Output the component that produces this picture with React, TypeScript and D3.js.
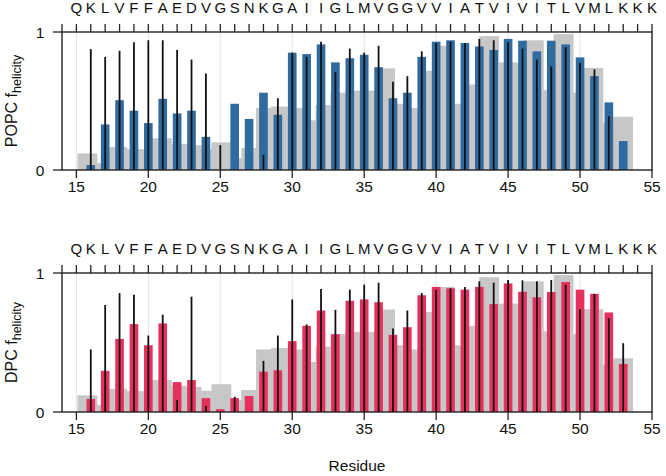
import React from 'react';
import * as d3 from 'd3';

// ---------- DATA ----------
const sequence = 'QKLVFFAEDVGSNKGAIIGLMVGGVVIATVIVITLVMLKKK';
const sequenceStart = 15;
const xTickValues = [15, 20, 25, 30, 35, 40, 45, 50, 55];
const yTickValues = [0, 1];

const residues = [16, 17, 18, 19, 20, 21, 22, 23, 24, 25, 26, 27, 28, 29, 30, 31, 32, 33, 34, 35,
  36, 37, 38, 39, 40, 41, 42, 43, 44, 45, 46, 47, 48, 49, 50, 51, 52, 53];

const popcHelicity = [0.036, 0.33, 0.506, 0.43, 0.34, 0.516, 0.41, 0.43, 0.24, 0, 0.48, 0.37, 0.56, 0.40,
  0.85, 0.84, 0.91, 0.78, 0.81, 0.835, 0.745, 0.52, 0.56, 0.82, 0.93, 0.94, 0.92, 0.895, 0.87, 0.95,
  0.937, 0.86, 0.937, 0.91, 0.816, 0.68, 0.49, 0.21];
const popcLine = [0.876, 0.82, 0.864, 0.925, 0.94, 0.94, 0.87, 0.80, 0.70, 0.18, 0, 0, 0.11, 0.52,
  0.85, 0.82, 0.93, 0.71, 0.88, 0.85, 0.90, 0.64, 0.68, 0.86, 0.92, 0.93, 0.92, 0.95, 0.94, 0.925,
  0.88, 0.80, 0.75, 0.89, 0.775, 0.73, 0.39, 0];

const dpcHelicity = [0.094, 0.296, 0.526, 0.632, 0.48, 0.637, 0.215, 0.23, 0.10, 0.02, 0.10, 0.115, 0.29,
  0.30, 0.51, 0.62, 0.73, 0.56, 0.80, 0.81, 0.79, 0.555, 0.61, 0.84, 0.90, 0.89, 0.88, 0.90, 0.776,
  0.925, 0.865, 0.825, 0.863, 0.935, 0.88, 0.85, 0.716, 0.346];
const dpcLine = [0.45, 0.77, 0.856, 0.844, 0.55, 0.70, 0.087, 0.83, 0.043, 0, 0.11, 0, 0.368, 0.55,
  0.81, 0.63, 0.885, 0.735, 0.88, 0.916, 0.93, 0.60, 0.73, 0.856, 0.88, 0.89, 0.90, 0.94, 0.93, 0.95,
  0.947, 0.94, 0.95, 0.916, 0.74, 0.85, 0.675, 0.495];

// reference (gray) series, spread between these residue positions
const referenceSpan = [15.77, 52.99];
const referenceHelicity = [0.12, 0.05, 0.167, 0.15, 0.15, 0.23, 0.19, 0.18, 0.153, 0.2, 0.086, 0.158,
  0.45, 0.46, 0.45, 0.36, 0.47, 0.56, 0.575, 0.575, 0.737, 0.48, 0.45, 0.72, 0.9, 0.48, 0.62, 0.97,
  0.78, 0.78, 0.94, 0.58, 0.985, 0.56, 0.74, 0.34, 0.386];

// ---------- LAYOUT ----------
const W = 666;
const H = 476;
const left = 62;
const right = 652;
const FONT = '"Liberation Sans", Arial, Helvetica, sans-serif';

const x = d3.scaleLinear().domain([14, 55]).range([left, right]);
const refPos = d3.scaleLinear().domain([0, referenceHelicity.length - 1]).range(referenceSpan);
const barHalf = 0.3;
const refHalf = 0.69;

type PanelProps = {
  top: number;
  bottom: number;
  values: number[];
  lines: number[];
  color: string;
  label: string;
};

function Panel({ top, bottom, values, lines, color, label }: PanelProps) {
  const y = d3.scaleLinear().domain([0, 1]).range([bottom, top]);
  const topTicks = d3.range(14, 56);
  return (
    <g>
      {xTickValues.map((t) => (
        <line key={'g' + t} x1={x(t)} x2={x(t)} y1={top} y2={bottom} stroke="#e3e3e3" strokeWidth={1} />
      ))}
      {referenceHelicity.map((v, j) => {
        const c = refPos(j);
        return (
          <rect key={'r' + j} x={x(c - refHalf)} width={x(c + refHalf) - x(c - refHalf)}
            y={y(v)} height={y(0) - y(v)} fill="#c7c7c7" />
        );
      })}
      {residues.map((r, i) => (
        <rect key={'b' + r} x={x(r - barHalf)} width={x(r + barHalf) - x(r - barHalf)}
          y={y(values[i])} height={y(0) - y(values[i])} fill={color} />
      ))}
      {residues.map((r, i) => (
        lines[i] > 0 ? (
          <line key={'l' + r} x1={x(r)} x2={x(r)} y1={y(0)} y2={y(lines[i])} stroke="#111" strokeWidth={1.8} />
        ) : null
      ))}
      <rect x={left} y={top} width={right - left} height={bottom - top} fill="none" stroke="#222" strokeWidth={1.4} />
      {topTicks.map((t) => (
        <line key={'tt' + t} x1={x(t)} x2={x(t)} y1={top - 8} y2={top} stroke="#222" strokeWidth={1.3} />
      ))}
      {sequence.split('').map((s, i) => (
        <text key={'s' + i} x={x(sequenceStart + i)} y={top - 19} textAnchor="middle"
          fontFamily={FONT} fontSize={15} fill="#111">{s}</text>
      ))}
      {xTickValues.map((t) => (
        <g key={'xt' + t}>
          <line x1={x(t)} x2={x(t)} y1={bottom} y2={bottom + 8} stroke="#222" strokeWidth={1.3} />
          <text x={x(t)} y={bottom + 22} textAnchor="middle" fontFamily={FONT} fontSize={15.5} fill="#111">{t}</text>
        </g>
      ))}
      {yTickValues.map((t) => (
        <g key={'yt' + t}>
          <line x1={left - 9} x2={left} y1={y(t)} y2={y(t)} stroke="#222" strokeWidth={1.3} />
          <text x={40} y={y(t) + 5.5} textAnchor="middle" fontFamily={FONT} fontSize={15.5} fill="#111">{t}</text>
        </g>
      ))}
      <text transform={`translate(17,${(top + bottom) / 2}) rotate(-90)`} textAnchor="middle"
        fontFamily={FONT} fontSize={16} fill="#111">
        {label} f<tspan fontSize={12.5} dy={4}>helicity</tspan>
      </text>
    </g>
  );
}

export default function App() {
  return (
    <svg width={W} height={H} style={{ position: 'absolute', left: 0, top: 0, background: '#fff' }}>
      <rect width={W} height={H} fill="#fff" />
      <Panel top={32} bottom={170} values={popcHelicity} lines={popcLine} color="#2f6b9e" label="POPC" />
      <Panel top={273} bottom={412} values={dpcHelicity} lines={dpcLine} color="#e6305e" label="DPC" />
      <text x={(left + right) / 2} y={471} textAnchor="middle" fontFamily={FONT} fontSize={15.5} fill="#111">Residue</text>
    </svg>
  );
}
